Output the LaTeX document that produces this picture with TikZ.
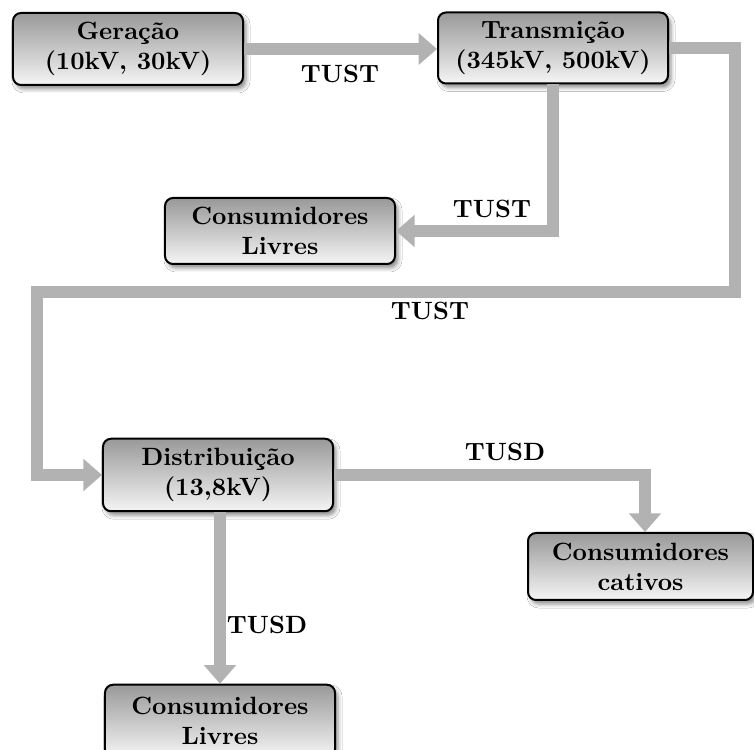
\documentclass[tikz,border=0pt]{standalone}
\usetikzlibrary{arrows.meta,shadows.blur,calc}
\begin{document}
\begin{tikzpicture}[x=0.4pt,y=-0.4pt,
  boxnode/.style={draw=black,line width=0.8pt,rounded corners=3.2pt,
    top color=black!40,bottom color=black!4,
    blur shadow={shadow xshift=1.2pt,shadow yshift=-1.6pt,shadow blur radius=1.6pt,shadow opacity=45},
    align=center,inner sep=0pt,minimum width=92pt,font=\bfseries,text=black},
  flow/.style={draw=black!30,line width=4.8pt,line join=miter,
    -{Triangle[length=7.4pt,width=12.4pt]}},
  flowplain/.style={draw=black!30,line width=4.8pt,line join=miter},
  lbl/.style={font=\bfseries,inner sep=0pt}]
\clip (0,0) rectangle (754,750);
\fill[white] (0,0) rectangle (754,750);
% boxes
\node[boxnode,minimum height=28.8pt] (ger) at (128,49) {Gera\c{c}\~ao\\(10kV, 30kV)};
\node[boxnode,minimum height=28.4pt] (tra) at (553,48) {Transmi\c{c}\~ao\\(345kV, 500kV)};
\node[boxnode,minimum height=26.4pt] (cl1) at (280,231) {Consumidores\\Livres};
\node[boxnode,minimum height=29pt] (dis) at (218,475) {Distribui\c{c}\~ao\\(13,8kV)};
\node[boxnode,minimum height=26.8pt,minimum width=90pt] (cat) at (640.5,566.5) {Consumidores\\cativos};
\node[boxnode,minimum height=29pt] (cl2) at (220,721) {Consumidores\\Livres};
% corner coordinates of the loop
\coordinate (c1) at (735,48);
\coordinate (c2) at (735,292);
\coordinate (c3) at (37,292);
\coordinate (c4) at (37,475);
\coordinate (c5) at (645,475);
% connectors
\draw[flow] (ger.east) -- (tra.west |- ger.east);
\draw[flow] (tra.south) |- (cl1.east);
\draw[flow] (tra.east) -- (c1) -- (c2) -- (c3) -- (c4) -- (dis.west);
\draw[flow] (dis.east) -- (c5) -- (c5 |- cat.north);
\draw[flow] (dis.south -| cl2.north) -- (cl2.north);
% labels
\node[lbl] (t1) at (340,74) {TUST};
\node[lbl] (t2) at (492,209) {TUST};
\node[lbl] (t3) at (430,311) {TUST};
\node[lbl] (t4) at (505,452) {TUSD};
\node[lbl] (t5) at (267,625) {TUSD};
\end{tikzpicture}
\end{document}
